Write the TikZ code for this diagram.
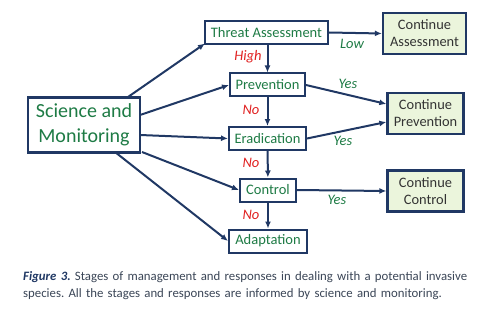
\documentclass[tikz,border=0pt]{standalone}
\usepackage{fontspec}
\setmainfont{Carlito}
\usetikzlibrary{arrows.meta}
\definecolor{navy}{HTML}{203864}
\definecolor{sgreen}{HTML}{1E7B45}
\definecolor{lgreen}{HTML}{EBF5DC}
\definecolor{lred}{HTML}{E02020}
\definecolor{captxt}{HTML}{3A4556}
\frenchspacing
\begin{document}
\begin{tikzpicture}[x=1pt,y=-1pt,
  stage/.style={draw=navy,line width=2pt,fill=white,text=sgreen,font=\fontsize{14.5}{16}\selectfont,inner sep=0pt,minimum height=23pt},
  cont/.style={draw=navy,line width=2.3pt,fill=lgreen,text=black!80,font=\fontsize{14.4}{17}\selectfont,align=center,inner sep=0pt,minimum width=76pt,minimum height=41pt},
  conn/.style={draw=navy,line width=2pt,-{Latex[length=7pt,width=6pt]}},
  nolab/.style={text=lred,font=\fontsize{14.5}{16}\selectfont\itshape},
  yeslab/.style={text=sgreen,font=\fontsize{14.5}{16}\selectfont\itshape}]
\useasboundingbox (0,0) rectangle (500,310);
\node[draw=navy,line width=2.3pt,text=sgreen,font=\fontsize{20}{25}\selectfont,align=center,minimum width=112pt,minimum height=55pt,inner sep=0pt] (sci) at (84,125) {Science and\\Monitoring};
\node[stage,minimum width=123pt] (thr) at (266.5,32.5) {Threat Assessment};
\node[stage,minimum width=75pt] (pre) at (267.5,85) {Prevention};
\node[stage,minimum width=77pt] (era) at (267.5,138.5) {Eradication};
\node[stage,minimum width=56pt] (ctl) at (268,190) {Control};
\node[stage,minimum width=78pt] (ada) at (268,241) {Adaptation};
\node[cont,minimum width=83pt] (ca) at (424.5,33.5) {Continue\\Assessment};
\node[cont] (cp) at (425.5,113.5) {Continue\\Prevention};
\node[cont] (cc) at (425.5,191) {Continue\\Control};
\coordinate (s1) at (128,97);
\coordinate (s2) at (140,115);
\coordinate (s3) at (140,135);
\coordinate (s4) at (142,152);
\coordinate (s5) at (115,152);
\draw[conn] (s1) -- (205,43.5);
\draw[conn] (s2) -- (pre.west);
\draw[conn] (s3) -- (era.west);
\draw[conn] (s4) -- (ctl.west);
\draw[conn] (s5) -- (ada.west);
\draw[conn] (thr.east) -- (ca.west);
\draw[conn] (thr.south -| pre) -- (pre.north);
\draw[conn] (pre) -- (era);
\draw[conn] (era) -- (ctl);
\draw[conn] (ctl) -- (ada);
\draw[conn] (pre.east) -- (cp.west |- 0,104);
\draw[conn] (era.east) -- (cp.west |- 0,122);
\draw[conn] (ctl.east) -- (cc.west);
\node[yeslab] (low) at (352,44) {Low};
\node[nolab] (hi) at (248,57) {High};
\node[nolab] (n1) at (251,110) {No};
\node[nolab] (n2) at (251,163) {No};
\node[nolab] (n3) at (251,215) {No};
\node[yeslab] (y1) at (348,84) {Yes};
\node[yeslab] (y2) at (343,141) {Yes};
\node[yeslab] (y3) at (337,200) {Yes};
\node[anchor=north west,text width=465pt,align=left,text=captxt,font=\fontsize{12.8}{17}\selectfont,inner sep=0pt] (cap) at (23,271) {\textcolor{navy}{\textbf{\textit{Figure 3.}}} Stages of management and responses in dealing with a potential invasive species. All the stages and responses are informed by science and monitoring.};
\end{tikzpicture}
\end{document}
